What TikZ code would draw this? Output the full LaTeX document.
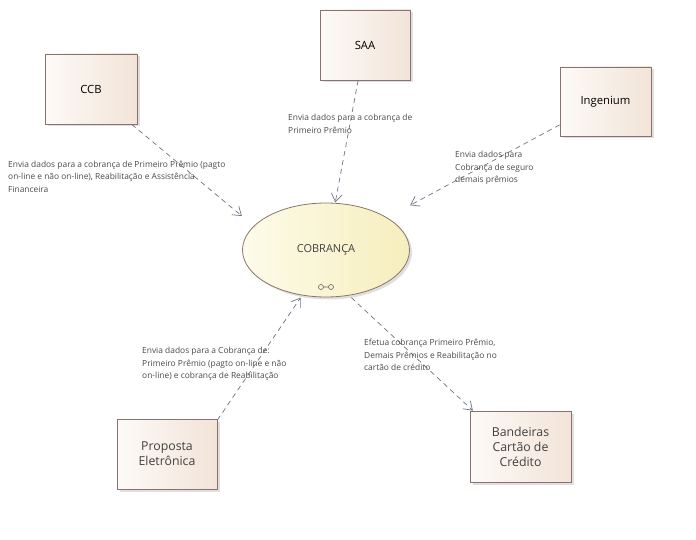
\documentclass[tikz,border=0pt]{standalone}
\usepackage{fontspec}
\setmainfont{Open Sans}
\usetikzlibrary{arrows.meta, shapes.geometric, shadows, fit}

\definecolor{boxline}{HTML}{8C7070}
\definecolor{boxlight}{HTML}{FDFAF7}
\definecolor{boxdark}{HTML}{F2E4D8}
\definecolor{ucline}{HTML}{8C7468}
\definecolor{uclight}{HTML}{FDFBEA}
\definecolor{ucdark}{HTML}{F6EEBD}
\definecolor{flowline}{HTML}{6C7288}
\definecolor{notetext}{HTML}{4A4A4A}

\tikzset{
  actor/.style={rectangle, draw=boxline, line width=0.8pt,
    left color=boxlight, right color=boxdark,
    minimum width=92pt, minimum height=70pt, align=center,
    drop shadow={shadow xshift=2.5pt, shadow yshift=-2.5pt, opacity=0.25},
    font=\fontsize{11.3}{15}\selectfont},
  usecase/.style={ellipse, draw=ucline, line width=0.8pt,
    left color=uclight, right color=ucdark,
    minimum width=167pt, minimum height=94pt, inner sep=0pt,
    drop shadow={shadow xshift=2.5pt, shadow yshift=-2.5pt, opacity=0.25},
    font=\fontsize{11}{13}\selectfont, text=black!75},
  flow/.style={draw=flowline, line width=0.7pt, dash pattern=on 5pt off 4pt,
    -{Straight Barb[length=8pt, width=11pt]}},
  note/.style={anchor=base west, inner sep=0pt, align=left,
    font=\fontsize{8.4}{12.5}\selectfont, text=notetext}
}

\begin{document}
\begin{tikzpicture}[x=1pt, y=-1pt]
  \useasboundingbox (0,0) rectangle (696,540);

  % actors
  \node[actor] (ccb) at (91,89) {CCB};
  \node[actor, minimum width=90pt] (saa) at (365,45) {SAA};
  \node[actor, minimum width=91pt, minimum height=69pt] (ingenium) at (605.5,101.5) {Ingenium};
  \node[actor, minimum width=100pt, text=black!75, font=\fontsize{12.3}{15}\selectfont]
    (proposta) at (167,454) {Proposta\\Eletrônica};
  \node[actor, minimum width=101pt, minimum height=71pt, text=black!75, font=\fontsize{12.3}{15}\selectfont]
    (bandeiras) at (520.5,446.5) {Bandeiras\\Cartão de\\Crédito};

  % use case
  \node[usecase] (cobranca) at (326,250) {COBRANÇA};
  \node[fit=(cobranca), inner sep=0pt] (cobrancabox) {};
  \draw[black!60, line width=0.6pt] (321,287) circle (2.5pt) (331,287) circle (2.5pt)
    (323.5,287) -- (328.5,287);

  % flows
  \draw[flow] (ccb.-41) -- (cobrancabox.158);
  \draw[flow] (saa.259) -- (cobrancabox.79);
  \draw[flow] (ingenium.207) -- (cobrancabox.28);
  \draw[flow] (proposta.34) -- (cobrancabox.242);
  \draw[flow] (cobrancabox.298) -- (bandeiras.143);

  % flow notes (base = last line)
  \node[note] (ccbnote) at (8,192.5) {Envia dados para a cobrança de Primeiro Prêmio (pagto\\on-line e não on-line), Reabilitação e Assistência\\Financeira};
  \node[note] (saanote) at (288,133.5) {Envia dados para a cobrança de\\Primeiro Prêmio};
  \node[note] (ingeniumnote) at (455,182.5) {Envia dados para\\Cobrança de seguro\\demais prêmios};
  \node[note] (propostanote) at (142,378.5) {Envia dados para a Cobrança de:\\Primeiro Prêmio (pagto on-line e não\\on-line) e cobrança de Reabilitação};
  \node[note] (bandeirasnote) at (364,370.5) {Efetua cobrança Primeiro Prêmio,\\Demais Prêmios e Reabilitação no\\cartão de crédito};
\end{tikzpicture}
\end{document}
